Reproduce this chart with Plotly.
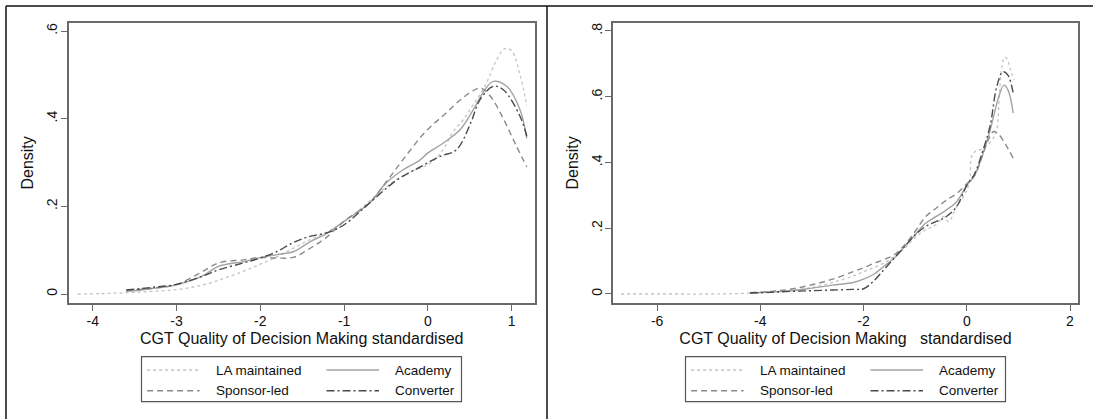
import plotly.graph_objects as go

# ---------------- data ----------------
series_names = ["LA maintained", "Academy", "Sponsor-led", "Converter"]

# Left panel (kernel density of CGT Quality of Decision Making, standardised)
l_la_x = [-4.18, -3.9, -3.6, -3.3, -3.0, -2.8, -2.6, -2.4, -2.2, -2.0, -1.8, -1.6, -1.4, -1.2, -1.0,
          -0.8, -0.6, -0.4, -0.2, 0.0, 0.1, 0.2, 0.3, 0.42, 0.55, 0.68, 0.82, 0.92, 1.0, 1.1, 1.18]
l_la_y = [0.0, 0.001, 0.003, 0.006, 0.01, 0.016, 0.025, 0.038, 0.052, 0.068, 0.085, 0.105, 0.125, 0.142, 0.165,
          0.195, 0.228, 0.258, 0.28, 0.295, 0.31, 0.335, 0.37, 0.397, 0.435, 0.474, 0.534, 0.56, 0.555, 0.5, 0.43]

l_ac_x = [-3.6, -3.3, -3.0, -2.7, -2.5, -2.2, -2.0, -1.8, -1.6, -1.4, -1.2, -1.0, -0.7, -0.5, -0.3, -0.1,
          0.0, 0.18, 0.38, 0.54, 0.68, 0.78, 0.94, 1.1, 1.18]
l_ac_y = [0.006, 0.012, 0.021, 0.04, 0.063, 0.074, 0.083, 0.09, 0.097, 0.12, 0.139, 0.166, 0.207, 0.253, 0.283, 0.305,
          0.322, 0.344, 0.374, 0.42, 0.466, 0.485, 0.474, 0.42, 0.355]

l_sp_x = [-3.6, -3.3, -3.0, -2.7, -2.5, -2.2, -2.0, -1.8, -1.6, -1.4, -1.2, -1.0, -0.7, -0.5, -0.3, -0.03,
          0.2, 0.4, 0.55, 0.63, 0.75, 0.9, 1.05, 1.18]
l_sp_y = [0.008, 0.013, 0.022, 0.05, 0.071, 0.078, 0.083, 0.082, 0.084, 0.105, 0.131, 0.166, 0.207, 0.255, 0.306, 0.37,
          0.41, 0.445, 0.465, 0.47, 0.45, 0.4, 0.34, 0.29]

l_cv_x = [-3.6, -3.3, -3.0, -2.7, -2.5, -2.2, -2.0, -1.8, -1.6, -1.4, -1.2, -1.0, -0.7, -0.37, -0.09, 0.145,
          0.34, 0.51, 0.62, 0.78, 0.9, 1.1, 1.18]
l_cv_y = [0.009, 0.015, 0.022, 0.04, 0.055, 0.071, 0.082, 0.097, 0.118, 0.132, 0.14, 0.158, 0.207, 0.26, 0.29, 0.314,
          0.329, 0.39, 0.443, 0.474, 0.466, 0.405, 0.36]

# Right panel
r_la_x = [-6.7, -6.0, -5.0, -4.5, -4.2, -3.8, -3.4, -3.0, -2.6, -2.2, -2.0, -1.8, -1.6, -1.4, -1.2, -1.0,
          -0.8, -0.6, -0.45, -0.35, -0.2, -0.05, 0.05, 0.1, 0.2, 0.28, 0.38, 0.5, 0.58, 0.63, 0.68, 0.73,
          0.78, 0.85, 0.92]
r_la_y = [0.0, 0.0, 0.0, 0.001, 0.003, 0.006, 0.011, 0.02, 0.035, 0.055, 0.068, 0.08, 0.095, 0.115, 0.14, 0.172,
          0.195, 0.21, 0.235, 0.22, 0.265, 0.3, 0.34, 0.42, 0.438, 0.44, 0.45, 0.47, 0.5, 0.6, 0.69, 0.72,
          0.715, 0.68, 0.65]

r_ac_x = [-4.2, -3.8, -3.4, -3.0, -2.6, -2.2, -2.0, -1.8, -1.6, -1.4, -1.2, -1.0, -0.8, -0.6, -0.4, -0.2,
          0.0, 0.15, 0.3, 0.42, 0.52, 0.62, 0.72, 0.8, 0.9]
r_ac_y = [0.003, 0.006, 0.01, 0.018, 0.027, 0.035, 0.045, 0.06, 0.085, 0.11, 0.145, 0.18, 0.215, 0.235, 0.255, 0.28,
          0.33, 0.36, 0.42, 0.48, 0.54, 0.6, 0.635, 0.62, 0.55]

r_sp_x = [-4.2, -3.8, -3.4, -3.0, -2.6, -2.2, -2.0, -1.8, -1.6, -1.4, -1.2, -1.0, -0.8, -0.6, -0.4, -0.2,
          0.0, 0.15, 0.3, 0.42, 0.52, 0.62, 0.75, 0.9]
r_sp_y = [0.004, 0.008, 0.015, 0.028, 0.045, 0.068, 0.08, 0.093, 0.105, 0.12, 0.15, 0.19, 0.235, 0.26, 0.285, 0.305,
          0.335, 0.36, 0.42, 0.47, 0.494, 0.485, 0.455, 0.413]

r_cv_x = [-4.2, -3.8, -3.4, -3.0, -2.6, -2.2, -2.0, -1.8, -1.6, -1.4, -1.2, -1.0, -0.8, -0.6, -0.4, -0.2,
          0.0, 0.15, 0.3, 0.45, 0.58, 0.7, 0.8, 0.9]
r_cv_y = [0.003, 0.005, 0.008, 0.01, 0.012, 0.014, 0.016, 0.04, 0.075, 0.11, 0.145, 0.18, 0.205, 0.22, 0.235, 0.265,
          0.33, 0.365, 0.43, 0.51, 0.63, 0.676, 0.665, 0.61]

l_xticks = [-4, -3, -2, -1, 0, 1]
l_xticktext = ["-4", "-3", "-2", "-1", "0", "1"]
l_yticks = [0, 0.2, 0.4, 0.6]
l_yticktext = ["0", ".2", ".4", ".6"]
r_xticks = [-6, -4, -2, 0, 2]
r_xticktext = ["-6", "-4", "-2", "0", "2"]
r_yticks = [0, 0.2, 0.4, 0.6, 0.8]
r_yticktext = ["0", ".2", ".4", ".6", ".8"]

l_xtitle = "CGT Quality of Decision Making standardised"
r_xtitle = "CGT Quality of Decision Making\u00a0\u00a0 standardised"
ytitle = "Density"

# ---------------- styles ----------------
W, H = 1093, 419
FONT = "Liberation Sans, Arial, Helvetica, sans-serif"
styles = {
    "LA maintained": dict(color="#c4c4c4", dash="dot", width=1.3),
    "Academy": dict(color="#a3a3a3", dash="solid", width=1.4),
    "Sponsor-led": dict(color="#8a8a8a", dash="6px,4px", width=1.4),
    "Converter": dict(color="#4a4a4a", dash="8px,3px,2px,3px", width=1.4),
}
FRAME = "#6a6a6a"

fig = go.Figure()
left = [(l_la_x, l_la_y), (l_ac_x, l_ac_y), (l_sp_x, l_sp_y), (l_cv_x, l_cv_y)]
right = [(r_la_x, r_la_y), (r_ac_x, r_ac_y), (r_sp_x, r_sp_y), (r_cv_x, r_cv_y)]
for name, (xs, ys) in zip(series_names, left):
    fig.add_trace(go.Scatter(x=xs, y=ys, mode="lines", name=name, line=styles[name],
                             line_shape="spline", showlegend=False, xaxis="x", yaxis="y"))
for name, (xs, ys) in zip(series_names, right):
    fig.add_trace(go.Scatter(x=xs, y=ys, mode="lines", name=name, line=styles[name],
                             line_shape="spline", showlegend=False, xaxis="x2", yaxis="y2"))


def px_x(p):
    return p / W


def px_y(p):
    return 1 - p / H


frame_top, frame_bot = 22.7, 303.0
L0, L1 = 68.5, 535.0
R0, R1 = 613.0, 1078.0

axis_common = dict(showline=True, linecolor=FRAME, linewidth=1.6, mirror=True, showgrid=False,
                   zeroline=False, ticks="outside", ticklen=6, tickwidth=1.2, tickcolor=FRAME,
                   tickfont=dict(family=FONT, size=14, color="#111"))

fig.update_layout(
    width=W, height=H, margin=dict(l=0, r=0, t=0, b=0),
    paper_bgcolor="white", plot_bgcolor="white",
    font=dict(family=FONT, color="#111"),
    xaxis=dict(domain=[px_x(L0), px_x(L1)], range=[-4.289, 1.278], tickvals=l_xticks, ticktext=l_xticktext,
               title=dict(text=l_xtitle, font=dict(family=FONT, size=16), standoff=5), anchor="y",
               ticklabelstandoff=-2, **axis_common),
    yaxis=dict(domain=[px_y(frame_bot), px_y(frame_top)], range=[-0.0205, 0.619], tickvals=l_yticks,
               ticktext=l_yticktext, tickangle=-90, ticklabelstandoff=-2,
               title=dict(text=ytitle, font=dict(family=FONT, size=16), standoff=6), anchor="x",
               **axis_common),
    xaxis2=dict(domain=[px_x(R0), px_x(R1)], range=[-6.855, 2.155], tickvals=r_xticks, ticktext=r_xticktext,
                title=dict(text=r_xtitle, font=dict(family=FONT, size=16), standoff=5), anchor="y2",
                ticklabelstandoff=-2, **axis_common),
    yaxis2=dict(domain=[px_y(frame_bot), px_y(frame_top)], range=[-0.0274, 0.825], tickvals=r_yticks,
                ticktext=r_yticktext, tickangle=-90, ticklabelstandoff=-2,
                title=dict(text=ytitle, font=dict(family=FONT, size=16), standoff=6), anchor="x2",
                **axis_common),
)

shapes = []
annotations = []
# outer borders
for (x0, y0, x1, y1) in [(6, 6, W, 6), (6, 6, 6, H), (547, 6, 547, H)]:
    shapes.append(dict(type="line", xref="paper", yref="paper", x0=px_x(x0), y0=px_y(y0),
                       x1=px_x(x1), y1=px_y(y1), line=dict(color="#111", width=1.5)))

# manual legends (Stata style 2x2 box)
for bl in (141.5, 685.5):
    shapes.append(dict(type="rect", xref="paper", yref="paper", x0=px_x(bl), x1=px_x(bl + 320),
                       y0=px_y(401.7), y1=px_y(356.7), line=dict(color="#555", width=1.2),
                       fillcolor="rgba(0,0,0,0)"))
    slots = [(0, 370), (1, 370), (0, 390.7), (1, 390.7)]
    for name, (col, ry) in zip(series_names, slots):
        lx0 = bl + (5.6 if col == 0 else 185)
        st = styles[name]
        shapes.append(dict(type="line", xref="paper", yref="paper", x0=px_x(lx0), x1=px_x(lx0 + 52.5),
                           y0=px_y(ry), y1=px_y(ry),
                           line=dict(color=st["color"], dash=st["dash"], width=st["width"])))
        tx = bl + (72 if col == 0 else 251)
        annotations.append(dict(xref="paper", yref="paper", x=px_x(tx), y=px_y(ry), text=name,
                                showarrow=False, xanchor="left", yanchor="middle",
                                font=dict(family=FONT, size=13.5, color="#111")))

fig.update_layout(shapes=shapes, annotations=annotations)
fig.write_html("out.html")
